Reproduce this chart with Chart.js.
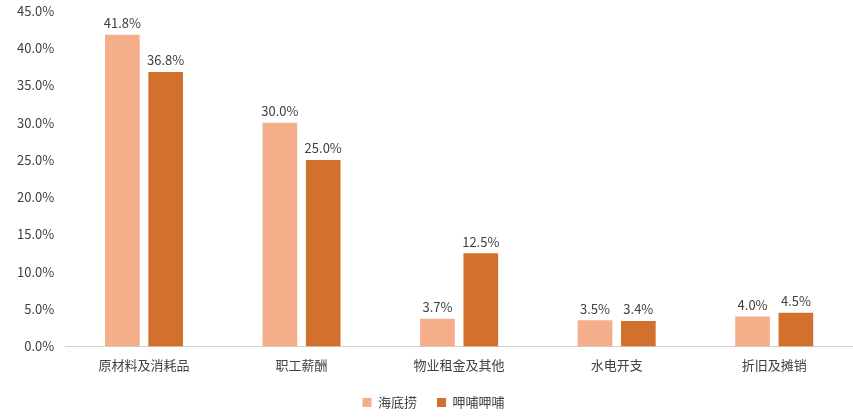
<!DOCTYPE html>
<html>
<head>
<meta charset="utf-8">
<script src="https://cdn.jsdelivr.net/npm/chart.js@4"></script>
<style>
  body { margin: 0; background: #fff; }
  #wrap { width: 853px; height: 419px; }
</style>
</head>
<body>
<div id="wrap"><canvas id="c"></canvas></div>
<script>
const categories = ["原材料及消耗品", "职工薪酬", "物业租金及其他", "水电开支", "折旧及摊销"];
const haidilao = [41.8, 30.0, 3.7, 3.5, 4.0];
const xiabu = [36.8, 25.0, 12.5, 3.4, 4.5];
const seriesNames = ["海底捞", "呷哺呷哺"];

// labels above each bar
const valueLabels = {
  id: "valueLabels",
  afterDatasetsDraw(chart) {
    const ctx = chart.ctx;
    ctx.save();
    ctx.font = "13px 'Noto Sans CJK SC', sans-serif";
    ctx.fillStyle = "#404040";
    ctx.textAlign = "center";
    ctx.textBaseline = "bottom";
    chart.data.datasets.forEach((ds, i) => {
      chart.getDatasetMeta(i).data.forEach((bar, j) => {
        ctx.fillText(ds.data[j].toFixed(1) + "%", bar.x, bar.y - 5);
      });
    });
    ctx.restore();
  }
};

Chart.defaults.font.family = "'Noto Sans CJK SC', sans-serif";
Chart.defaults.color = "#404040";

new Chart(document.getElementById("c"), {
  type: "bar",
  data: {
    labels: categories,
    datasets: [
      { label: seriesNames[0], data: haidilao, backgroundColor: "#F4AE8A" },
      { label: seriesNames[1], data: xiabu, backgroundColor: "#D2702E" }
    ]
  },
  options: {
    responsive: true,
    maintainAspectRatio: false,
    animation: false,
    layout: { padding: { left: 14, right: 0, top: 8, bottom: 0 } },
    datasets: { bar: { categoryPercentage: 0.55, barPercentage: 0.8 } },
    scales: {
      x: {
        grid: { display: false },
        border: { color: "#d0d0d0" },
        ticks: { font: { size: 13 }, color: "#404040" }
      },
      y: {
        min: 0, max: 45,
        ticks: { stepSize: 5, font: { size: 13 }, color: "#404040",
          callback: v => v.toFixed(1) + "%" },
        grid: { display: false },
        border: { display: false }
      }
    },
    plugins: {
      legend: {
        position: "bottom",
        labels: { boxWidth: 9, boxHeight: 9, font: { size: 13 }, color: "#404040", padding: 20 }
      },
      tooltip: { enabled: false }
    }
  },
  plugins: [valueLabels]
});
</script>
</body>
</html>
